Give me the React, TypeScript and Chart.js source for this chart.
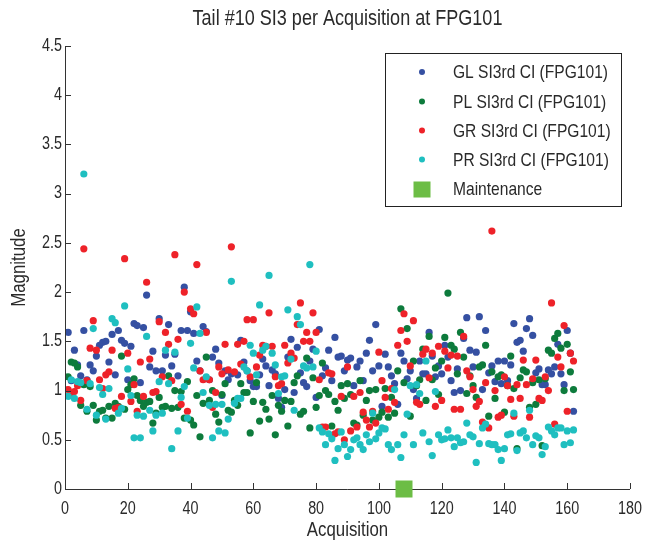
import React, { useEffect, useRef } from "react";
import { Chart, registerables } from "chart.js";

Chart.register(...registerables);

const TITLE = "Tail #10 SI3 per Acquisition at FPG101";
const X_LABEL = "Acquisition";
const Y_LABEL = "Magnitude";
const SERIES_NAMES = [
  "GL SI3rd CI (FPG101)",
  "PL SI3rd CI (FPG101)",
  "GR SI3rd CI (FPG101)",
  "PR SI3rd CI (FPG101)",
];
const MAINT_NAME = "Maintenance";
const MAINT_X = [108];
const MAINT_Y = [0];

const GL = [
  1.59, 1.10, 1.41, 1.26, 1.15, 1.61, 1.11, 1.26, 1.20, 1.35,
  1.46, 1.49, 1.50, 1.29, 1.57, 1.16, 1.61, 1.51, 1.48, 1.11,
  1.45, 1.68, 1.66, 1.08, 1.64, 1.97, 1.24, 1.40, 1.20, 1.73,
  1.20, 1.36, 1.67, 1.25, 1.37, 1.15, 1.61, 2.05, 1.61, 1.80,
  1.58, 1.30, 1.20, 1.65, 1.60, 1.11, 1.34, 1.42, 1.28, 0.95,
  1.20, 1.11, 1.17, 0.88, 1.16, 1.51, 1.29, 1.20, 1.10, 1.04,
  1.04, 1.16, 1.32, 1.25, 1.05, 1.21, 1.17, 0.92, 0.83, 1.01,
  1.34, 1.52, 0.98, 1.44, 1.18, 1.08, 1.04, 1.30, 1.42, 0.93,
  1.62, 1.15, 1.23, 1.41, 1.10, 1.54, 1.34, 1.35, 1.20, 1.31,
  1.33, 1.05, 1.24, 1.30, 1.10, 1.38, 1.51, 1.20, 1.67, 1.25,
  0.84, 1.37, 1.24, 1.15, 1.07, 0.86, 1.38, 1.30, 1.12, 1.20,
  1.01, 0.92, 1.30, 1.17, 1.17, 1.59, 1.35, 1.14, 1.25, 1.17,
  1.46, 1.34, 1.10, 0.98, 1.22, 1.00, 1.53, 1.74, 1.41, 1.24,
  1.39, 1.75, 1.01, 1.61, 1.18, 1.25, 1.09, 1.30, 1.07, 1.30,
  1.10, 1.26, 1.68, 1.49, 1.51, 1.40, 1.63, 1.73, 1.56, 1.18,
  1.22, 1.06, 1.06, 1.21, 1.17, 1.24, 1.47, 1.17, 1.06, 1.61,
  1.38, 0.79,
];

const PL = [
  1.14, 1.29, 1.28, 1.24, 0.85, 1.06, 0.79, 1.04, 0.85, 0.70,
  0.79, 0.80, 0.72, 0.84, 0.72, 0.87, 0.84, 1.35, 0.81, 1.01,
  1.06, 1.12, 0.95, 0.90, 0.84, 0.88, 0.89, 0.67, 0.77, 0.93,
  0.83, 0.84, 1.15, 0.82, 1.00, 0.83, 0.99, 0.72, 1.09, 0.70,
  0.65, 0.95, 0.53, 0.87, 1.34, 0.90, 1.00, 0.76, 0.68, 0.96,
  1.07, 0.80, 0.78, 0.90, 0.85, 1.07, 0.98, 0.98, 0.57, 0.89,
  1.08, 0.69, 0.88, 0.81, 0.71, 0.95, 0.55, 0.85, 0.79, 0.90,
  0.64, 0.89, 1.08, 1.15, 0.76, 0.79, 1.33, 0.62, 1.13, 0.83,
  0.95, 1.28, 1.00, 0.96, 0.64, 0.89, 0.80, 1.05, 0.92, 1.07,
  0.96, 0.67, 0.65, 1.10, 0.75, 0.90, 1.00, 0.70, 1.01, 0.73,
  0.78, 1.02, 0.73, 0.93, 0.77, 1.20, 1.83, 1.08, 1.63, 0.74,
  1.30, 1.05, 1.11, 1.42, 0.90, 1.55, 1.11, 1.23, 0.96, 1.30,
  1.54, 1.99, 1.46, 1.42, 1.17, 1.59, 1.34, 0.97, 1.15, 1.05,
  0.93, 1.24, 1.26, 1.46, 0.74, 1.19, 0.92, 1.14, 1.16, 0.78,
  1.05, 1.35, 1.02, 0.41, 1.13, 1.21, 1.19, 0.83, 1.08, 0.86,
  1.11, 0.44, 1.12, 1.41, 1.38, 1.53, 1.58, 1.43, 1.00, 1.47,
  1.19, 1.01,
];

const GR = [
  1.01, 0.95, 0.99, 1.05, 0.90, 2.44, 1.10, 1.43, 1.71, 1.41,
  1.11, 1.02, 1.16, 1.19, 1.41, 0.82, 0.83, 0.94, 2.34, 1.38,
  0.89, 1.06, 0.79, 1.29, 0.94, 2.10, 1.32, 0.98, 0.99, 1.70,
  1.14, 1.59, 1.47, 1.10, 2.38, 1.52, 0.86, 2.00, 0.79, 1.83,
  1.78, 2.28, 1.20, 1.11, 1.59, 1.11, 0.83, 0.98, 1.24, 1.17,
  1.47, 1.21, 2.46, 1.19, 1.47, 1.27, 1.50, 1.72, 1.14, 1.72,
  1.24, 1.36, 1.46, 1.45, 1.79, 1.45, 1.14, 1.05, 1.07, 1.46,
  1.28, 1.38, 1.33, 1.67, 1.89, 1.50, 1.59, 1.50, 1.79, 1.59,
  1.11, 0.63, 0.63, 1.18, 1.17, 0.56, 0.58, 0.94, 0.50, 1.24,
  0.59, 0.94, 0.63, 0.98, 0.78, 0.70, 0.63, 0.79, 0.67, 1.39,
  1.10, 0.93, 0.81, 1.02, 0.88, 1.46, 1.61, 1.78, 1.50, 1.25,
  1.71, 0.88, 0.86, 1.37, 1.42, 1.13, 1.38, 0.84, 1.45, 0.90,
  1.40, 1.23, 1.36, 0.81, 1.35, 0.81, 1.55, 1.20, 1.14, 1.01,
  0.84, 0.89, 0.68, 1.08, 0.62, 2.62, 1.00, 0.73, 0.75, 1.14,
  1.05, 0.91, 0.74, 1.06, 0.92, 1.31, 1.06, 0.73, 1.12, 1.31,
  0.92, 0.90, 1.14, 1.00, 1.89, 0.66, 1.34, 1.24, 1.66, 0.79,
  1.38, 1.30,
];

const PR = [
  0.94, 1.11, 0.92, 1.09, 1.08, 3.20, 0.81, 1.07, 1.63, 0.75,
  1.03, 0.96, 0.71, 1.02, 1.73, 1.69, 0.77, 0.82, 1.86, 1.22,
  0.95, 0.52, 0.75, 0.52, 0.74, 1.55, 0.80, 0.59, 0.75, 1.09,
  0.77, 1.41, 1.07, 0.41, 1.39, 0.59, 0.93, 1.04, 0.72, 1.48,
  1.23, 1.85, 1.58, 0.98, 1.14, 0.85, 0.52, 0.86, 0.59, 0.86,
  0.57, 0.71, 2.11, 0.87, 0.92, 0.92, 1.24, 1.20, 1.46, 1.38,
  1.16, 1.87, 1.41, 1.45, 2.17, 1.38, 1.26, 0.97, 1.14, 1.15,
  1.82, 1.32, 0.80, 1.75, 1.67, 1.25, 1.23, 2.28, 1.24, 1.40,
  0.62, 0.58, 0.45, 0.56, 0.51, 0.29, 0.41, 0.58, 0.45, 0.33,
  0.40, 0.50, 0.52, 0.45, 0.40, 0.55, 0.48, 0.77, 0.51, 0.57,
  0.62, 0.61, 0.45, 0.40, 1.01, 0.45, 0.32, 0.55, 0.76, 1.05,
  0.45, 1.06, 0.97, 0.57, 1.30, 0.48, 0.34, 0.99, 0.55, 0.50,
  0.51, 0.60, 0.52, 0.43, 0.52, 0.47, 0.48, 0.67, 0.55, 0.53,
  0.27, 0.46, 0.62, 0.66, 0.46, 0.45, 0.45, 0.40, 0.29, 0.41,
  0.55, 0.56, 0.77, 0.39, 0.57, 0.59, 0.52, 0.80, 0.45, 0.54,
  0.52, 0.35, 0.43, 0.63, 0.59, 0.55, 0.62, 0.62, 0.45, 0.59,
  0.47, 0.60,
];

const X_TICKS = [0, 20, 40, 60, 80, 100, 120, 140, 160, 180];
const Y_TICKS = [0, 0.5, 1, 1.5, 2, 2.5, 3, 3.5, 4, 4.5];

const COLORS = ["#3550a2", "#0d7b3c", "#ee2229", "#1fbfc0"];
const MAINT_COLOR = "#6cbd45";
const FONT = '"Liberation Sans", Arial, sans-serif';
const NARROW = 0.82;
const TEXT = "#2a2a2a";
const AXIS = "#333333";

const toPts = (arr: number[]) => arr.map((v, i) => ({ x: i + 1, y: v }));

function narrowText(
  ctx: CanvasRenderingContext2D,
  text: string,
  x: number,
  y: number,
  size: number,
  align: CanvasTextAlign,
  rotate = 0
) {
  ctx.save();
  ctx.translate(x, y);
  if (rotate) ctx.rotate(rotate);
  ctx.scale(NARROW, 1);
  ctx.font = `${size}px ${FONT}`;
  ctx.textAlign = align;
  ctx.textBaseline = "middle";
  ctx.fillStyle = TEXT;
  ctx.fillText(text, 0, 0);
  ctx.restore();
}

const decor = {
  id: "decor",
  afterDraw(chart: any) {
    const { ctx, chartArea: a, scales } = chart;
    const xs = scales.x;
    const ys = scales.y;
    ctx.save();
    // axes
    ctx.strokeStyle = AXIS;
    ctx.lineWidth = 1;
    ctx.beginPath();
    ctx.moveTo(a.left + 0.5, a.top);
    ctx.lineTo(a.left + 0.5, a.bottom + 0.5);
    ctx.lineTo(a.right, a.bottom + 0.5);
    ctx.stroke();
    // inward ticks
    ctx.beginPath();
    X_TICKS.forEach((t) => {
      const px = Math.round(xs.getPixelForValue(t)) + 0.5;
      ctx.moveTo(px, a.bottom);
      ctx.lineTo(px, a.bottom - 6);
    });
    Y_TICKS.forEach((t) => {
      const py = Math.round(ys.getPixelForValue(t)) + 0.5;
      ctx.moveTo(a.left, py);
      ctx.lineTo(a.left + 6, py);
    });
    ctx.stroke();

    // tick labels
    X_TICKS.forEach((t) => {
      narrowText(ctx, String(t), xs.getPixelForValue(t), a.bottom + 20, 17.5, "center");
    });
    Y_TICKS.forEach((t) => {
      narrowText(ctx, String(t), a.left - 3, ys.getPixelForValue(t), 17.5, "right");
    });

    // maintenance marker drawn on top of axis
    MAINT_X.forEach((mx, i) => {
      const px = xs.getPixelForValue(mx);
      const py = ys.getPixelForValue(MAINT_Y[i]);
      ctx.fillStyle = MAINT_COLOR;
      ctx.fillRect(px - 8.5, py - 8.5, 17, 17);
    });

    // title & axis titles
    narrowText(ctx, TITLE, (a.left + a.right) / 2, 19, 22, "center");
    narrowText(ctx, X_LABEL, (a.left + a.right) / 2, 530, 20.5, "center");
    narrowText(ctx, Y_LABEL, 19, (a.top + a.bottom) / 2, 20.5, "center", -Math.PI / 2);

    // legend
    const lx = 385.5, ly = 53.5, lw = 236, lh = 153;
    ctx.fillStyle = "#ffffff";
    ctx.fillRect(lx, ly, lw, lh);
    ctx.strokeStyle = "#222222";
    ctx.lineWidth = 1;
    ctx.strokeRect(lx, ly, lw, lh);
    const rows = [72, 101.5, 130.5, 159.5, 189];
    SERIES_NAMES.forEach((name, i) => {
      ctx.fillStyle = COLORS[i];
      ctx.beginPath();
      ctx.arc(422, rows[i], 3, 0, Math.PI * 2);
      ctx.fill();
      narrowText(ctx, name, 453, rows[i] + 1, 19, "left");
    });
    ctx.fillStyle = MAINT_COLOR;
    ctx.fillRect(413.5, 181.5, 17, 16);
    narrowText(ctx, MAINT_NAME, 453, rows[4] + 1, 19, "left");
    ctx.restore();
  },
};

export default function App() {
  const ref = useRef<HTMLCanvasElement | null>(null);
  useEffect(() => {
    document.body.style.margin = "0";
    const canvas = ref.current;
    if (!canvas) return;
    const series = [GL, PL, GR, PR];
    const chart = new Chart(canvas, {
      type: "scatter",
      data: {
        datasets: series.map((s, i) => ({
          label: SERIES_NAMES[i],
          data: toPts(s),
          backgroundColor: COLORS[i],
          borderWidth: 0,
          pointRadius: 3.6,
          pointHoverRadius: 3.6,
          order: 4 - i,
        })),
      },
      options: {
        animation: false,
        responsive: false,
        devicePixelRatio: 1,
        layout: { padding: { top: 46, right: 15, bottom: 0, left: 0 } },
        plugins: {
          legend: { display: false },
          title: { display: false },
          tooltip: { enabled: false },
        },
        scales: {
          x: {
            type: "linear",
            min: 0,
            max: 180,
            afterFit: (s: any) => { s.height = 53; },
            grid: { display: false, drawTicks: false },
            border: { display: false },
            ticks: { display: false },
          },
          y: {
            type: "linear",
            min: 0,
            max: 4.5,
            afterFit: (s: any) => { s.width = 65; },
            grid: { display: false, drawTicks: false },
            border: { display: false },
            ticks: { display: false },
          },
        },
      },
      plugins: [decor],
    });
    return () => chart.destroy();
  }, []);
  return (
    <div style={{ width: 645, height: 542, background: "#fff" }}>
      <canvas ref={ref} width={645} height={542} style={{ display: "block" }} />
    </div>
  );
}
